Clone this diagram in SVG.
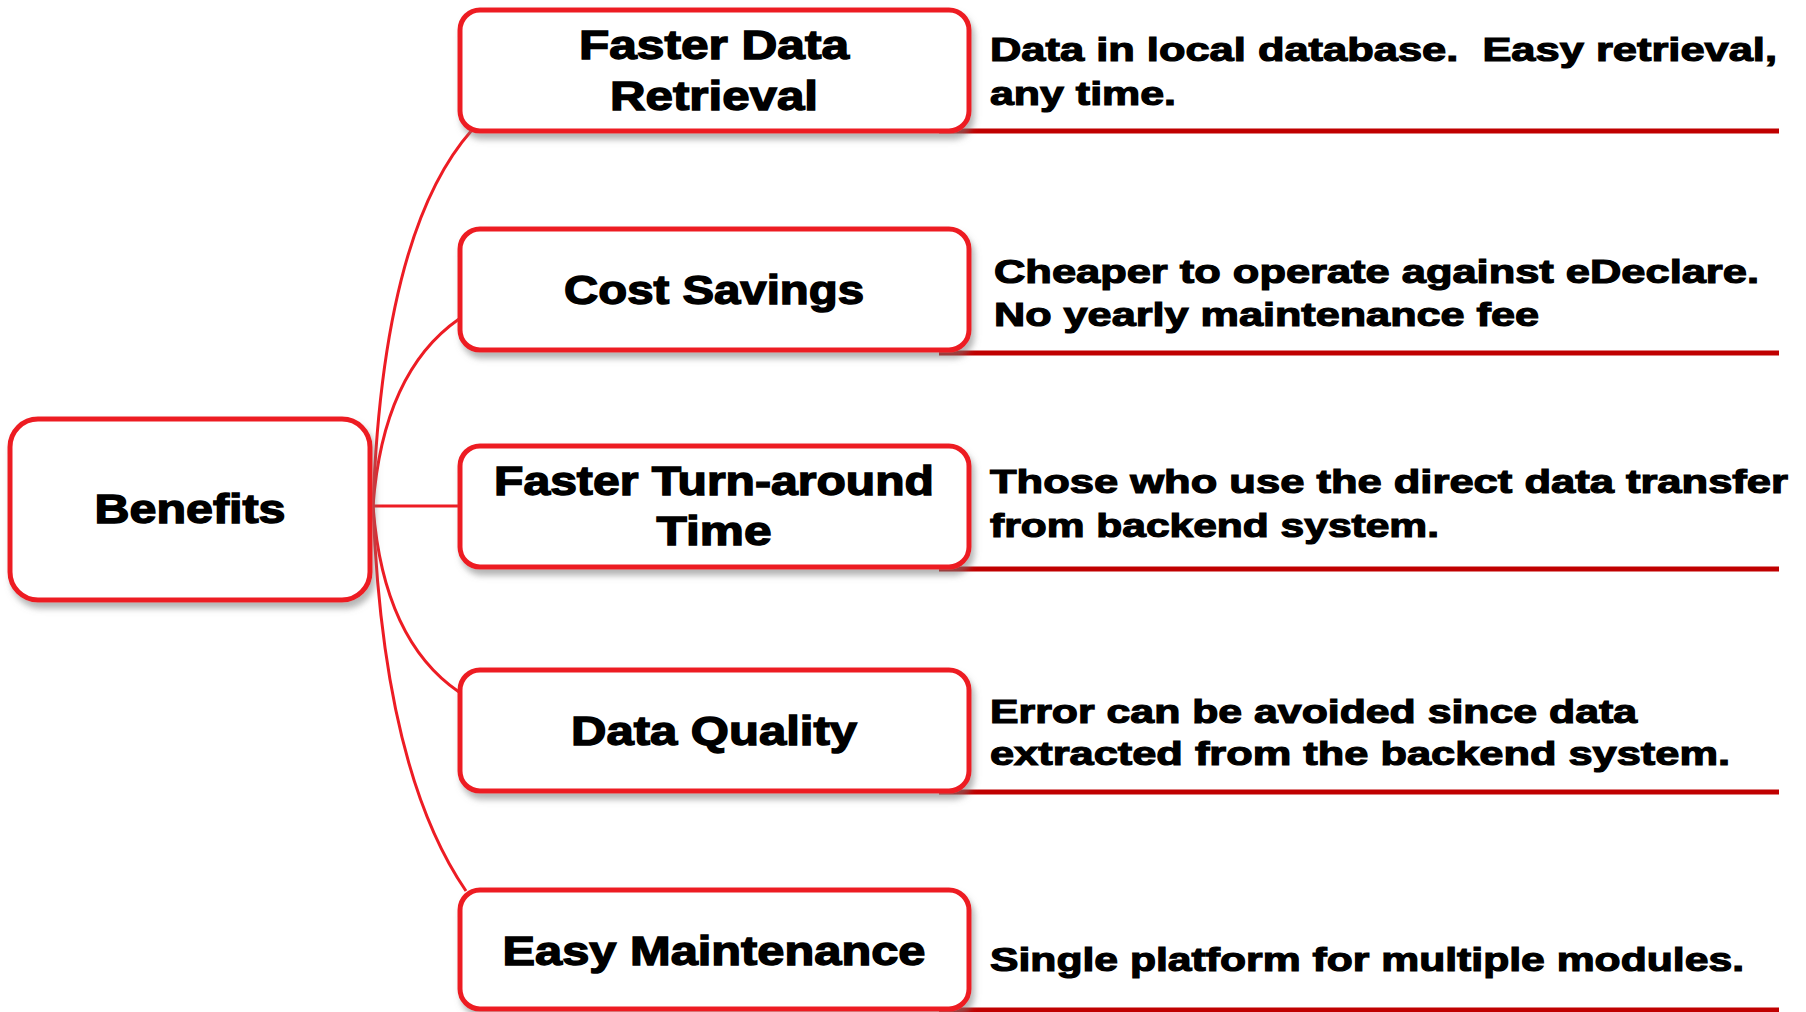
<svg xmlns="http://www.w3.org/2000/svg" width="1806" height="1012" viewBox="0 0 1806 1012">
<style>
.box{fill:#fff;stroke:#ED1C24;stroke-width:5;filter:url(#sh)}
.lbl{font-family:"Liberation Sans",Arial,sans-serif;font-weight:bold;font-size:41px;fill:#000;stroke:#000;stroke-width:1.4;text-anchor:middle}
.dsc{font-family:"Liberation Sans",Arial,sans-serif;font-weight:bold;font-size:34px;fill:#000;stroke:#000;stroke-width:1.2}
.con{fill:none;stroke:#ED1C24;stroke-width:3}
.ul{stroke:#C00000;stroke-width:5}
</style>
<defs>
<filter id="sh" x="-10%" y="-10%" width="130%" height="140%">
<feDropShadow dx="3" dy="6" stdDeviation="3" flood-color="#777" flood-opacity="0.55"/>
</filter>
</defs>
<g id="connectors">
<path class="con" d="M373 506 Q383 230 472 130"/>
<path class="con" d="M373 506 Q383 372 459 319"/>
<path class="con" d="M373 506 L459 506"/>
<path class="con" d="M373 506 Q383 640 459 692"/>
<path class="con" d="M373 506 Q383 770 466 891"/>
</g>
<g id="underlines">
<line class="ul" x1="939" y1="131" x2="1779" y2="131"/>
<line class="ul" x1="939" y1="353" x2="1779" y2="353"/>
<line class="ul" x1="939" y1="569" x2="1779" y2="569"/>
<line class="ul" x1="939" y1="792" x2="1779" y2="792"/>
<line class="ul" x1="939" y1="1010" x2="1779" y2="1010"/>
</g>
<g id="benefits">
<rect class="box" x="10" y="419" width="360" height="181" rx="28"/>
<text class="lbl" x="190" y="523" textLength="191" lengthAdjust="spacingAndGlyphs">Benefits</text>
</g>
<g id="faster-data-retrieval">
<rect class="box" x="460" y="10" width="509" height="121" rx="20"/>
<text class="lbl" x="714" y="59" textLength="270" lengthAdjust="spacingAndGlyphs">Faster Data</text>
<text class="lbl" x="714" y="110" textLength="208" lengthAdjust="spacingAndGlyphs">Retrieval</text>
</g>
<g id="cost-savings">
<rect class="box" x="460" y="229" width="509" height="121" rx="20"/>
<text class="lbl" x="714" y="304" textLength="300" lengthAdjust="spacingAndGlyphs">Cost Savings</text>
</g>
<g id="faster-turnaround">
<rect class="box" x="460" y="446" width="509" height="121" rx="20"/>
<text class="lbl" x="714" y="495" textLength="440" lengthAdjust="spacingAndGlyphs">Faster Turn-around</text>
<text class="lbl" x="714" y="545" textLength="115" lengthAdjust="spacingAndGlyphs">Time</text>
</g>
<g id="data-quality">
<rect class="box" x="460" y="670" width="509" height="121" rx="20"/>
<text class="lbl" x="714" y="745" textLength="286" lengthAdjust="spacingAndGlyphs">Data Quality</text>
</g>
<g id="easy-maintenance">
<rect class="box" x="460" y="890" width="509" height="119" rx="20"/>
<text class="lbl" x="714" y="965" textLength="423" lengthAdjust="spacingAndGlyphs">Easy Maintenance</text>
</g>
<g id="descriptions">
<text class="dsc" x="990" y="61" textLength="787" lengthAdjust="spacingAndGlyphs" xml:space="preserve">Data in local database.  Easy retrieval,</text>
<text class="dsc" x="990" y="105" textLength="186" lengthAdjust="spacingAndGlyphs">any time.</text>
<text class="dsc" x="994" y="283" textLength="765" lengthAdjust="spacingAndGlyphs">Cheaper to operate against eDeclare.</text>
<text class="dsc" x="994" y="326" textLength="545" lengthAdjust="spacingAndGlyphs">No yearly maintenance fee</text>
<text class="dsc" x="990" y="493" textLength="798" lengthAdjust="spacingAndGlyphs">Those who use the direct data transfer</text>
<text class="dsc" x="990" y="537" textLength="449" lengthAdjust="spacingAndGlyphs">from backend system.</text>
<text class="dsc" x="990" y="723" textLength="647" lengthAdjust="spacingAndGlyphs">Error can be avoided since data</text>
<text class="dsc" x="990" y="765" textLength="740" lengthAdjust="spacingAndGlyphs">extracted from the backend system.</text>
<text class="dsc" x="990" y="971" textLength="754" lengthAdjust="spacingAndGlyphs">Single platform for multiple modules.</text>
</g>
</svg>
